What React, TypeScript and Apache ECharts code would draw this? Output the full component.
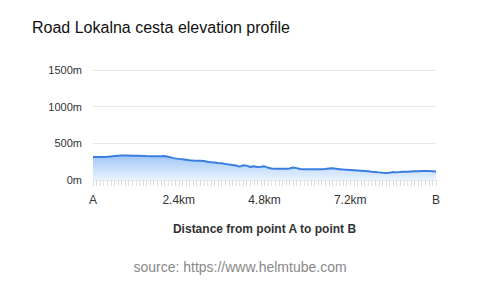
import React, { useEffect, useRef } from "react";
import * as echarts from "echarts";

const titleText = "Road Lokalna cesta elevation profile";
const sourceText = "source: https://www.helmtube.com";
const xAxisName = "Distance from point A to point B";

// distance in km, step 0.1 km
const distances: string[] = Array.from({ length: 97 }, (_, i) => (i / 10).toFixed(1));

// elevation in metres
const elevations: number[] = [
  312, 312, 313, 315, 318, 322, 326, 330, 333, 334,
  333, 332, 331, 330, 328, 326, 325, 324, 323, 325,
  328, 318, 305, 295, 288, 282, 276, 270, 266, 264,
  262, 258, 250, 242, 238, 232, 228, 220, 212, 205,
  198, 182, 200, 196, 178, 188, 176, 180, 186, 168,
  158, 154, 153, 152, 152, 158, 170, 162, 150, 146,
  145, 146, 147, 146, 148, 150, 158, 160, 154, 148,
  142, 140, 138, 134, 130, 126, 122, 118, 112, 108,
  104, 98, 95, 100, 108, 104, 110, 112, 114, 116,
  118, 118, 122, 124, 122, 120, 116,
];

const yTicks = [0, 500, 1000, 1500];

export default function App() {
  const ref = useRef<HTMLDivElement>(null);
  useEffect(() => {
    if (!ref.current) return;
    const chart = echarts.init(ref.current, undefined, { renderer: "svg" });
    const fontFamily = "'Liberation Sans', Arial, Helvetica, sans-serif";
    chart.setOption({
      animation: false,
      textStyle: { fontFamily },
      title: [
        {
          text: titleText,
          left: 32,
          top: 19,
          padding: 0,
          textStyle: { fontSize: 16, fontWeight: "normal", color: "#111", fontFamily },
        },
        {
          text: sourceText,
          left: "center",
          top: 260,
          padding: 0,
          textStyle: { fontSize: 14, fontWeight: "normal", color: "#888", fontFamily },
        },
      ],
      grid: { left: 93, right: 44, top: 70, bottom: 107, containLabel: false },
      xAxis: {
        type: "category",
        data: distances,
        boundaryGap: false,
        name: xAxisName,
        nameLocation: "middle",
        nameGap: 43,
        nameTextStyle: { fontSize: 12, fontWeight: "bold", color: "#333", fontFamily },
        axisLine: { show: false },
        axisTick: {
          show: true,
          interval: 0,
          length: 6,
          lineStyle: { color: "#dcdcdc" },
        },
        axisLabel: {
          interval: 23,
          fontSize: 12,
          color: "#333",
          margin: 14,
          fontFamily,
          formatter: (v: string, i: number) =>
            i === 0 ? "A" : i === distances.length - 1 ? "B" : `${v}km`,
        },
        splitLine: { show: false },
      },
      yAxis: {
        type: "value",
        min: yTicks[0],
        max: yTicks[yTicks.length - 1],
        interval: 500,
        axisLine: { show: false },
        axisTick: { show: false },
        axisLabel: {
          fontSize: 11,
          color: "#333",
          margin: 11,
          fontFamily,
          formatter: (v: number) => `${v}m`,
        },
        splitLine: { lineStyle: { color: "#e6e6e6", width: 1 } },
      },
      series: [
        {
          type: "line",
          data: elevations,
          symbol: "none",
          smooth: false,
          lineStyle: { color: "#3a7ee0", width: 2 },
          itemStyle: { color: "#3a7ee0" },
          areaStyle: {
            color: new echarts.graphic.LinearGradient(0, 0, 0, 1, [
              { offset: 0, color: "rgba(110,170,245,0.95)" },
              { offset: 1, color: "rgba(220,236,252,0.9)" },
            ]),
          },
        },
      ],
    });
    return () => chart.dispose();
  }, []);
  return (
    <div
      ref={ref}
      style={{ position: "fixed", left: 0, top: 0, width: 480, height: 287, background: "#fff" }}
    />
  );
}
